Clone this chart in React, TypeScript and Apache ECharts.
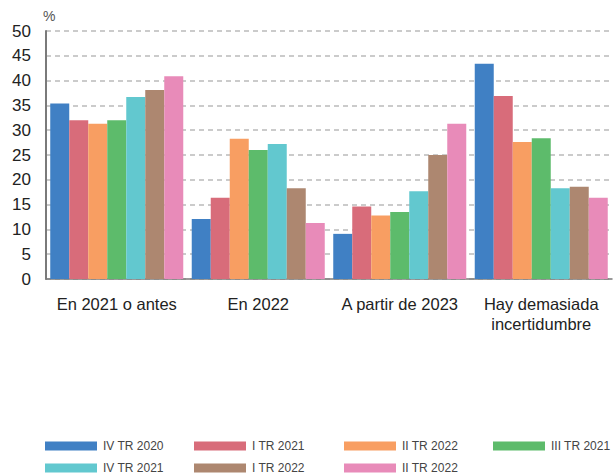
import React, { useEffect, useRef } from "react";
import * as echarts from "echarts";

const categories = ["En 2021 o antes", "En 2022", "A partir de 2023", "Hay demasiada\nincertidumbre"];
const seriesNames = ["IV TR 2020", "I TR 2021", "II TR 2022", "III TR 2021", "IV TR 2021", "I TR 2022", "II TR 2022 "];
const colors = ["#4080C4", "#D86C7A", "#F89E62", "#5DBB6B", "#62C8CF", "#AD8770", "#E88BB9"];
const values: number[][] = [
  [35.4, 12.1, 9.1, 43.4],
  [32.0, 16.4, 14.6, 36.9],
  [31.3, 28.3, 12.8, 27.6],
  [32.0, 26.0, 13.5, 28.4],
  [36.7, 27.2, 17.7, 18.3],
  [38.1, 18.3, 25.0, 18.6],
  [40.9, 11.3, 31.3, 16.4],
];
const yTicks = { min: 0, max: 50, interval: 5 };

const legendPos = [
  [45, 440], [194, 440], [344, 440], [493, 440],
  [45, 462], [194, 462], [344, 462],
];

export default function App() {
  const ref = useRef<HTMLDivElement>(null);
  useEffect(() => {
    const chart = echarts.init(ref.current!, null, { renderer: "svg" });
    chart.setOption({
      animation: false,
      grid: { left: 46, right: 2, top: 31, bottom: 196 },
      legend: seriesNames.map((n, i) => ({
        data: [n],
        left: legendPos[i][0],
        top: legendPos[i][1],
        padding: 0,
        itemWidth: 52,
        itemHeight: 9,
        itemGap: 0,
        icon: "rect",
        selectedMode: false,
        textStyle: { fontFamily: "'Liberation Sans', Arial, sans-serif", fontSize: 12, color: "#444", padding: [0, 0, 0, 1] },
      })),
      xAxis: {
        type: "category",
        data: categories,
        axisLine: { lineStyle: { color: "#7a7a7a", width: 1.5 } },
        axisTick: { inside: true, length: 5, lineStyle: { color: "#7a7a7a" } },
        axisLabel: { interval: 0, margin: 15, fontSize: 16.5, color: "#222", lineHeight: 20, fontFamily: "'Liberation Sans', Arial, sans-serif" },
      },
      yAxis: {
        type: "value",
        min: yTicks.min,
        max: yTicks.max,
        interval: yTicks.interval,
        name: "%",
        nameGap: 8,
        nameTextStyle: { fontSize: 14, color: "#555", align: "left", padding: [0, 0, 0, -3], fontFamily: "'Liberation Sans', Arial, sans-serif" },
        axisLine: { show: true, lineStyle: { color: "#7a7a7a", width: 2 } },
        axisTick: { show: false },
        axisLabel: { margin: 15, fontSize: 17, color: "#222", fontFamily: "'Liberation Sans', Arial, sans-serif" },
        splitLine: { lineStyle: { color: "#bbbbbb", width: 1.5, type: [5, 4] } },
      },
      series: seriesNames.map((n, i) => ({
        name: n,
        type: "bar",
        data: values[i],
        barGap: "0%",
        barCategoryGap: "6%",
        itemStyle: { color: colors[i] },
      })),
    });
    return () => chart.dispose();
  }, []);
  return <div ref={ref} style={{ position: "absolute", left: 0, top: 0, width: 614, height: 475 }} />;
}
